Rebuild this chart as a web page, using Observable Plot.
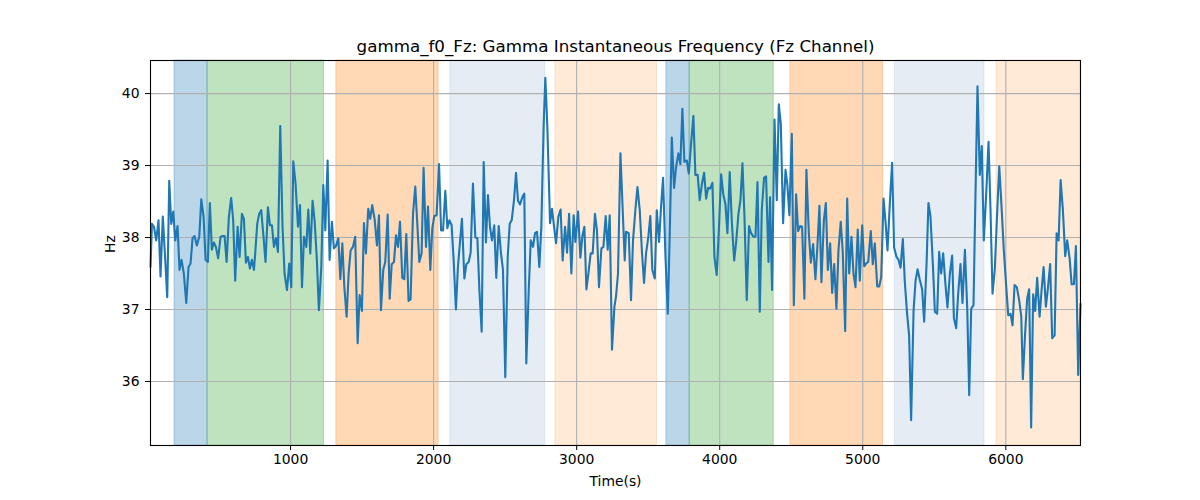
<!DOCTYPE html>
<html>
<head>
<meta charset="utf-8">
<script src="https://cdn.jsdelivr.net/npm/d3@7"></script>
<script src="https://cdn.jsdelivr.net/npm/@observablehq/plot@0.6"></script>
<style>
  html, body { margin: 0; padding: 0; background: #fff; }
  #chart svg { display: block; }
</style>
</head>
<body>
<div id="chart"></div>
<script>
const titleText = "gamma_f0_Fz: Gamma Instantaneous Frequency (Fz Channel)";
const xLabel = "Time(s)";
const yLabel = "Hz";
const xTicks = [1000, 2000, 3000, 4000, 5000, 6000];
const yTicks = [36, 37, 38, 39, 40];

const times = [
21,31,45,61,77,91,107,124,138,152,166,180,194,210,224,238,254,271,287,301,315,329,345,362,376,392,406,422,436,450,464,478,494,511,525,539,553,569,585,599,613,630,644,660,674,688,702,716,730,744,753,767,781,795,811,825,842,856,870,884,898,912,928,944,958,975,991,1005,1019,1035,1052,1066,1080,1094,
1110,1124,1138,1154,1168,1184,1198,1215,1229,1243,1259,1273,1289,1303,1317,1334,1348,1362,1376,1392,1406,1420,1436,1452,1469,1483,1499,1513,1527,1543,1557,1571,1588,1604,1618,1632,1648,1662,1679,1693,1707,1723,1737,1751,1765,1781,1795,1809,1825,1839,1856,1872,1886,1900,1916,1930,1947,1961,1977,1991,2005,2021,2038,2052,2066,2082,2096,2110,2126,2140,2156,
2170,2198,2215,2229,2245,2259,2275,2292,2306,2320,2336,2350,2366,2380,2394,2408,2424,2438,2455,2471,2485,2501,2518,2532,2546,2562,2576,2590,2604,2620,2634,2648,2665,2679,2695,2709,2723,2739,2753,2769,2781,2795,2814,2828,2842,2856,2872,2888,2902,2919,2933,2947,2963,2979,2991,3010,3026,3040,3054,3068,3082,3098,3112,3128,3142,3156,3173,3187,3203,3217,3231,3247,3264,
3275,3289,3306,3336,3345,3364,3380,3394,3411,3425,3441,3457,3471,3485,3501,3515,3529,3546,3560,3576,3590,3604,3620,3637,3651,3665,3681,3695,3711,3725,3739,3753,3770,3784,3800,3816,3830,3846,3860,3877,3891,3905,3919,3933,3949,3963,3979,3993,4010,4024,4040,4054,4070,4084,4101,4115,4131,4145,4159,4173,4189,4205,4219,4236,4250,4264,4280,4294,4310,4324,4341,
4352,4366,4383,4399,4413,4427,4443,4460,4473,4487,4504,4518,4534,4548,4562,4576,4592,4606,4623,4637,4653,4669,4683,4697,4711,4728,4742,4756,4772,4786,4800,4816,4830,4846,4860,4877,4891,4905,4921,4935,4949,4965,4979,4996,5010,5024,5038,5056,5070,5084,5101,5115,5129,5145,5159,5173,5189,5205,5219,5236,5250,5264,5280,5294,5310,5324,5338,5355,5369,5383,5399,5415,5429,
5446,5459,5473,5490,5504,5520,5534,5548,5562,5578,5592,5609,5625,5637,5653,5667,5683,5697,5714,5730,5744,5758,5774,5788,5802,5818,5832,5846,5863,5879,5893,5907,5923,5937,5954,5970,5986,6003,6017,6033,6047,6061,6077,6094,6108,6119,6135,6149,6163,6177,6191,6205,6219,6236,6250,6264,6280,6294,6310,6324,6341,6355,6369,6383,6399,6415,6429,6446,6460,6476,6490,6506,6522
];

const hz = [
37.59,38.19,38.15,37.96,38.24,37.46,38.29,37.69,37.17,38.79,38.19,38.36,37.96,38.16,37.55,37.69,37.50,37.09,37.59,37.64,37.99,38.02,37.89,38.01,38.53,38.29,37.69,37.66,38.48,37.83,37.93,37.87,37.71,38.01,38.02,38.02,37.66,38.29,38.55,38.24,37.40,38.15,37.73,38.33,38.26,37.65,37.73,37.57,37.69,37.55,37.78,38.19,38.33,38.38,38.01,37.66,38.42,38.17,38.17,37.87,37.99,37.80,39.55,38.15,37.50,37.27,37.64,37.31,39.06,38.75,38.15,38.45,37.31,38.01,
37.87,38.39,37.78,38.51,38.24,37.69,36.99,37.59,38.73,38.10,39.07,37.69,38.22,37.85,37.88,37.99,37.42,37.92,37.31,36.90,37.50,37.82,37.87,38.01,36.53,37.20,36.98,38.20,37.78,38.40,38.26,38.45,38.25,37.89,38.31,36.99,37.55,37.66,38.32,37.15,37.63,37.66,38.03,37.87,38.22,37.44,37.42,38.05,37.12,37.14,38.33,38.71,38.19,37.66,37.78,38.97,37.87,38.43,37.55,38.13,38.30,38.31,39.02,38.10,38.10,38.65,38.13,38.24,38.17,37.69,37.00,
37.59,38.26,37.43,37.63,37.66,37.79,38.75,38.00,37.99,37.27,36.69,39.05,37.93,38.59,38.15,37.96,38.17,37.44,38.16,37.78,37.55,36.06,37.73,38.19,38.24,38.52,38.90,38.51,38.46,38.56,38.61,36.25,37.27,37.96,37.87,38.06,38.08,37.59,38.15,39.54,40.22,39.54,38.20,38.40,38.15,37.92,38.29,38.39,37.68,38.15,37.79,38.33,37.50,38.31,37.94,38.36,37.72,38.02,38.15,37.28,37.50,37.78,37.78,38.33,38.10,37.31,37.85,37.87,38.30,37.83,38.31,36.44,37.04,
37.18,37.50,39.17,37.68,38.08,38.06,37.13,37.96,38.40,38.70,38.38,37.78,37.37,37.78,38.01,38.30,37.55,37.43,38.38,37.94,38.43,38.83,37.78,36.94,38.08,39.39,38.69,38.98,39.17,39.02,39.79,39.05,39.07,38.89,39.31,39.69,38.87,38.87,38.52,38.76,38.90,38.54,38.69,38.68,38.76,37.73,37.48,38.06,38.88,38.61,38.46,38.06,38.91,38.24,37.68,37.94,38.33,38.52,39.03,38.29,37.13,38.16,38.06,38.01,38.01,38.77,36.97,38.38,38.83,38.85,37.66,
38.56,37.27,39.64,38.52,39.85,39.58,38.20,38.94,38.73,38.31,39.44,37.06,38.60,38.09,38.16,38.15,37.15,38.94,38.06,37.65,37.91,37.42,37.88,38.44,37.38,38.24,38.48,37.55,37.92,37.23,37.63,37.01,37.82,38.22,37.80,36.70,38.54,37.50,38.01,37.50,37.31,38.11,37.40,38.17,37.60,37.64,37.66,38.09,37.63,37.92,37.32,37.32,37.45,38.54,38.22,37.82,38.47,39.04,37.86,37.73,37.69,37.58,37.98,37.38,36.94,36.64,35.46,36.98,37.40,37.56,37.41,37.28,36.83,
37.64,38.48,38.30,37.63,36.97,36.94,37.80,37.50,37.78,37.35,37.03,37.50,37.75,36.88,36.74,37.22,37.63,37.09,37.83,37.03,35.81,37.01,37.06,38.61,40.10,38.87,39.27,37.96,38.61,39.33,38.38,37.22,37.56,38.24,38.99,38.43,37.82,37.31,36.92,36.94,36.78,37.34,37.31,37.12,36.90,36.03,36.67,37.15,37.28,35.36,37.21,36.98,37.44,36.90,37.27,37.59,37.04,37.29,37.63,36.60,36.64,38.06,37.96,38.80,38.38,37.74,37.96,37.71,37.35,37.35,37.88,36.09,37.08
];

const spanStart = [189, 420, 1320, 2117, 2851, 3627, 3790, 4494, 5224, 5935];
const spanEnd   = [420, 1234, 2035, 2781, 3562, 3790, 4378, 5142, 5851, 6522];
const spanColor = ["#1f77b4", "#2ca02c", "#ff7f0e", "#b0c4de", "#ff7f0e", "#1f77b4", "#2ca02c", "#ff7f0e", "#b0c4de", "#ff7f0e"];
const spanAlpha = [0.3, 0.3, 0.3, 0.33, 0.16, 0.3, 0.3, 0.3, 0.33, 0.16];

const series = times.map((t, i) => ({t, v: hz[i]}));
const spans = spanStart.map((s, i) => ({x1: s, x2: spanEnd[i], c: spanColor[i], a: spanAlpha[i]}));

const font = "DejaVu Sans, sans-serif";

const chart = Plot.plot({
  width: 1200,
  height: 500,
  marginLeft: 150,
  marginRight: 120,
  marginTop: 60,
  marginBottom: 55,
  style: {fontFamily: font, fontSize: "13.9px", color: "black", background: "white"},
  x: {domain: [21, 6522]},
  y: {domain: [35.11, 40.46]},
  marks: [
    Plot.rect(spans, {x1: "x1", x2: "x2", fill: "c", fillOpacity: "a", stroke: "c", strokeOpacity: "a", strokeWidth: 1}),
    Plot.gridX(xTicks, {stroke: "#b0b0b0", strokeOpacity: 1, strokeWidth: 1.1}),
    Plot.gridY(yTicks, {stroke: "#b0b0b0", strokeOpacity: 1, strokeWidth: 1.1}),
    Plot.line(series, {x: "t", y: "v", stroke: "#1f77b4", strokeWidth: 2.1}),
    Plot.axisX(xTicks, {tickSize: 5, tickPadding: 4, label: null, fontSize: 13.9, stroke: "black", tickFormat: d => String(d)}),
    Plot.axisY(yTicks, {tickSize: 5, tickPadding: 6, label: null, fontSize: 13.9, stroke: "black", tickFormat: d => String(d)}),
    Plot.frame({stroke: "black", strokeWidth: 1.1}),
    Plot.text([titleText], {frameAnchor: "top", dy: -14, lineAnchor: "middle", fontSize: 16.7, fill: "black"}),
    Plot.text([xLabel], {frameAnchor: "bottom", dy: 36, lineAnchor: "middle", fontSize: 13.9, fill: "black"}),
    Plot.text([yLabel], {frameAnchor: "left", dx: -40, rotate: -90, lineAnchor: "middle", fontSize: 13.9, fill: "black"})
  ]
});
document.getElementById("chart").appendChild(chart);
</script>
</body>
</html>
